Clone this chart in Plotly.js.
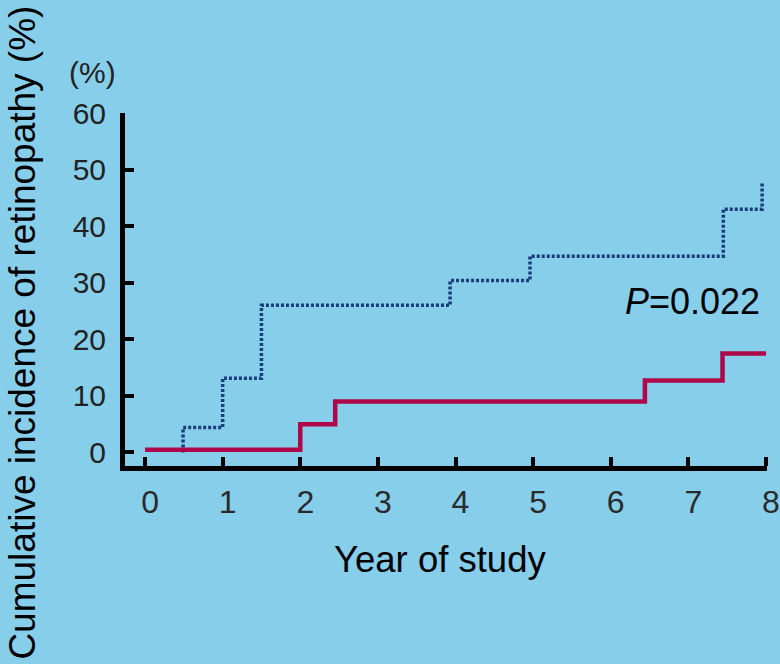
<!DOCTYPE html>
<html>
<head>
<meta charset="utf-8">
<script src="https://cdn.plot.ly/plotly-3.0.1.min.js"></script>
<style>
html,body{margin:0;padding:0;background:#87CEEB;}
#chart{width:780px;height:664px;}
</style>
</head>
<body>
<div id="chart"></div>
<script>
// Red (solid) group: step curve, drawn with 'hv'
const redYears = [0, 2, 2.45, 6.44, 7.44, 8.0];
const redIncidence = [0.5, 5, 9, 12.7, 17.5, 17.5];

// Blue (dotted) group: step curve, drawn with 'vh'
const blueYears = [0.49, 1.0, 1.5, 3.93, 4.96, 7.45, 7.95, 7.95];
const blueIncidence = [0, 4.4, 13.1, 26, 30.4, 34.7, 43, 47.6];

const xTicks = [0, 1, 2, 3, 4, 5, 6, 7, 8];
const yTicks = [0, 10, 20, 30, 40, 50, 60];

const yTitle = 'Cumulative incidence of retinopathy (%)';
const xTitle = 'Year of study';
const unitLabel = '(%)';
const pLabel = '<i>P</i>=0.022';

const FONT = '"Liberation Sans", Arial, sans-serif';

const traces = [
  {
    x: blueYears, y: blueIncidence, type: 'scatter', mode: 'lines',
    line: {shape: 'vh', color: '#1a3d7c', width: 3.5, dash: '3px,2px'},
    hoverinfo: 'skip', showlegend: false
  },
  {
    x: redYears, y: redIncidence, type: 'scatter', mode: 'lines',
    line: {shape: 'hv', color: '#b0064a', width: 4.5},
    hoverinfo: 'skip', showlegend: false
  }
];

const layout = {
  width: 780, height: 664,
  paper_bgcolor: '#87CEEB', plot_bgcolor: '#87CEEB',
  margin: {l: 125, r: 13, t: 113, b: 198, pad: 0},
  font: {family: FONT, color: '#111'},
  showlegend: false,
  xaxis: {
    range: [-0.258, 8.013], tickmode: 'array', tickvals: xTicks, ticktext: xTicks.map(String),
    showline: true, linecolor: '#000', linewidth: 5, mirror: false,
    ticks: 'inside', ticklen: 9, tickwidth: 4, tickcolor: '#000',
    showgrid: false, zeroline: false, fixedrange: true,
    tickfont: {size: 32, color: '#2a2a2a', family: FONT},
    ticklabelshift: 5, ticklabelstandoff: 4
  },
  yaxis: {
    range: [-2.39, 60], tickmode: 'array', tickvals: yTicks, ticktext: yTicks.map(String),
    showline: true, linecolor: '#000', linewidth: 5, mirror: false,
    ticks: 'inside', ticklen: 9, tickwidth: 4, tickcolor: '#000',
    showgrid: false, zeroline: false, fixedrange: true,
    tickfont: {size: 30, color: '#222', family: FONT},
    ticklabelstandoff: 8
  },
  annotations: [
    {text: yTitle, xref: 'paper', yref: 'paper', x: -0.16, y: 0.3787,
     xanchor: 'center', yanchor: 'middle', textangle: -90, showarrow: false,
     font: {size: 37, color: '#000', family: FONT}},
    {text: xTitle, xref: 'paper', yref: 'paper', x: 0.4907, y: -0.2638,
     xanchor: 'center', yanchor: 'middle', showarrow: false,
     font: {size: 36.5, color: '#000', family: FONT}},
    {text: unitLabel, xref: 'paper', yref: 'paper', x: -0.05, y: 1.1135,
     xanchor: 'center', yanchor: 'middle', showarrow: false,
     font: {size: 30, color: '#222', family: FONT}},
    {text: pLabel, xref: 'x', yref: 'y', x: 7.05, y: 26.7,
     xanchor: 'center', yanchor: 'middle', showarrow: false,
     font: {size: 36, color: '#000', family: FONT}}
  ]
};

Plotly.newPlot('chart', traces, layout, {displayModeBar: false, staticPlot: true});
</script>
</body>
</html>
